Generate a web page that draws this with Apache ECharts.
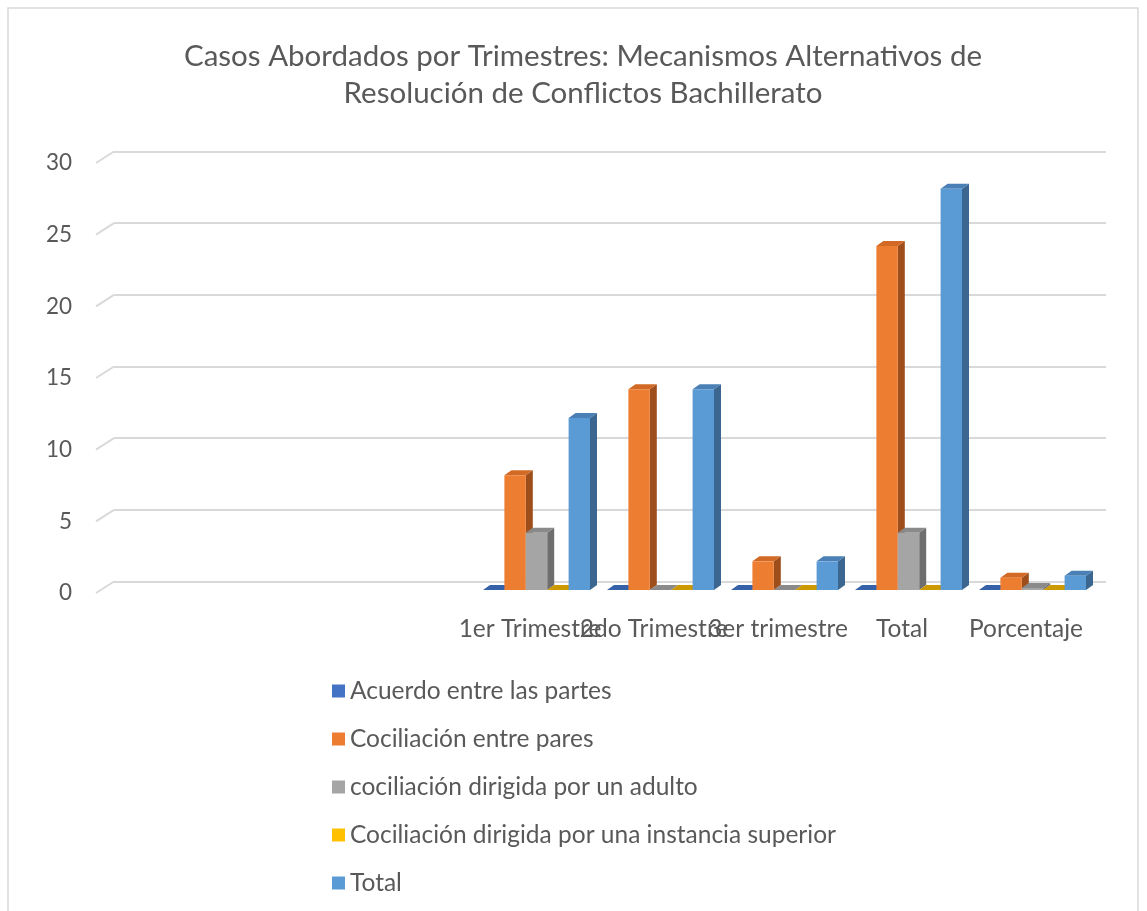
<!DOCTYPE html>
<html>
<head>
<meta charset="utf-8">
<script src="https://cdn.jsdelivr.net/npm/echarts@6/dist/echarts.min.js"></script>
<style>
  html, body { margin: 0; padding: 0; background: #fff; }
  #grafico { width: 1147px; height: 911px; }
</style>
</head>
<body>
<div id="grafico"></div>
<script>
// categorias (las tres primeras vienen vacias en la hoja original)
var categorias = ['', '', '', '1er Trimestre', '2do Trimestre', '3er trimestre', 'Total', 'Porcentaje'];
var vacias = 3;

var nombres = [
    'Acuerdo entre las partes',
    'Cociliación entre pares',
    'cociliación dirigida por un adulto',
    'Cociliación dirigida por una instancia superior',
    'Total'
];
var acuerdo   = [0, 0, 0, 0, 0];
var pares     = [8, 14, 2, 24, 0.857];
var adulto    = [4, 0, 0, 4, 0.143];
var superior  = [0, 0, 0, 0, 0];
var total     = [12, 14, 2, 28, 1];
var ticksY    = [0, 5, 10, 15, 20, 25, 30];

var valores = [acuerdo, pares, adulto, superior, total];
// frente, lateral, tapa
var colores = [
    ['#4472C4', '#2F5597', '#3560AA'],
    ['#ED7D31', '#9E4E1B', '#D26A25'],
    ['#A5A5A5', '#6E6E6E', '#8A8A8A'],
    ['#FFC000', '#B38600', '#CC9A00'],
    ['#5B9BD5', '#3A6690', '#4A80B6']
];

var texto = '#595959';
var fuente = 'Lato';
var prof = [7, -5];      // profundidad de cada barra
var pared = [18, -11.5]; // desplazamiento de la pared del fondo
var desp = [6.5, -3];    // barras respecto al plano del piso

var mChart = echarts.init(document.getElementById('grafico'));

function barra(k) {
    return function(params, api) {
        var v = api.value(1);
        if (v == null || isNaN(v)) return;
        var base = api.coord([api.value(0), 0]);
        var top = api.coord([api.value(0), v]);
        var band = api.size([1, 0])[0];
        var bw = band * 0.1726;
        var x0 = base[0] + desp[0] + (k - 2.5) * bw;
        var y0 = base[1] + desp[1];
        var y1 = top[1] + desp[1];
        var c = colores[k];
        return {
            type: 'group',
            children: [
                { type: 'polygon', shape: { points: [[x0 + bw, y1], [x0 + bw + prof[0], y1 + prof[1]], [x0 + bw + prof[0], y0 + prof[1]], [x0 + bw, y0]] }, style: { fill: c[1] } },
                { type: 'polygon', shape: { points: [[x0, y1], [x0 + prof[0], y1 + prof[1]], [x0 + bw + prof[0], y1 + prof[1]], [x0 + bw, y1]] }, style: { fill: c[2] } },
                { type: 'rect', shape: { x: x0, y: y1, width: bw, height: y0 - y1 }, style: { fill: c[0] } }
            ]
        };
    };
}

var series = [];
// tramos inclinados del piso hacia la pared
series.push({
    type: 'custom',
    name: 'pared',
    silent: true,
    xAxisIndex: 0,
    yAxisIndex: 0,
    data: ticksY.map(function(t) { return [0, t]; }),
    renderItem: function(params, api) {
        var p = api.coord([0, api.value(1)]);
        var left = p[0] - api.size([1, 0])[0] / 2;
        return {
            type: 'line',
            shape: { x1: left, y1: p[1], x2: left + pared[0], y2: p[1] + pared[1] },
            style: { stroke: '#D9D9D9', lineWidth: 2 }
        };
    }
});
for (var k = 0; k < nombres.length; k++) {
    series.push({
        type: 'custom',
        name: nombres[k],
        xAxisIndex: 0,
        yAxisIndex: 0,
        itemStyle: { color: colores[k][0] },
        data: valores[k].map(function(v, i) { return [i + vacias, v]; }),
        renderItem: barra(k)
    });
}
// lineas de la pared del fondo
series.push({
    type: 'line',
    name: 'fondo',
    xAxisIndex: 1,
    yAxisIndex: 1,
    data: [],
    silent: true
});

var option = {
    backgroundColor: '#fff',
    animation: false,
    textStyle: { fontFamily: fuente },
    title: {
        text: 'Casos Abordados por Trimestres: Mecanismos Alternativos de\nResolución de Conflictos Bachillerato',
        left: 578,
        textAlign: 'center',
        top: 33,
        textStyle: { color: texto, fontFamily: fuente, fontWeight: 'normal', fontSize: 29.5, lineHeight: 37 }
    },
    graphic: [{
        type: 'rect',
        shape: { x: 8, y: 8, width: 1130, height: 930 },
        style: { fill: 'none', stroke: '#D9D9D9', lineWidth: 1.5 },
        z: -1
    }],
    legend: {
        orient: 'vertical',
        left: 327,
        top: 673,
        icon: 'rect',
        itemWidth: 13,
        itemHeight: 13,
        itemGap: 22,
        data: nombres,
        textStyle: { color: texto, fontFamily: fuente, fontSize: 24.5, lineHeight: 26 }
    },
    grid: [
        { left: 96, top: 163, width: 992, height: 430 },
        { left: 96 + pared[0], top: 163 + pared[1], width: 992, height: 430 }
    ],
    xAxis: [{
        type: 'category',
        gridIndex: 0,
        data: categorias,
        axisLine: { show: false },
        axisTick: { show: false },
        axisLabel: { interval: 0, color: texto, fontFamily: fuente, fontSize: 24.5, margin: 24 }
    }, {
        type: 'category',
        gridIndex: 1,
        data: categorias,
        show: false
    }],
    yAxis: [{
        type: 'value',
        gridIndex: 0,
        min: 0, max: 30, interval: 5,
        axisLine: { show: false },
        axisTick: { show: false },
        splitLine: { show: false },
        axisLabel: { color: texto, fontFamily: fuente, fontSize: 22.5, margin: 24 }
    }, {
        type: 'value',
        gridIndex: 1,
        min: 0, max: 30, interval: 5,
        axisLine: { show: false },
        axisTick: { show: false },
        axisLabel: { show: false },
        splitLine: { show: true, lineStyle: { color: '#D9D9D9', width: 2 } }
    }],
    series: series
};
mChart.setOption(option);
</script>
</body>
</html>
